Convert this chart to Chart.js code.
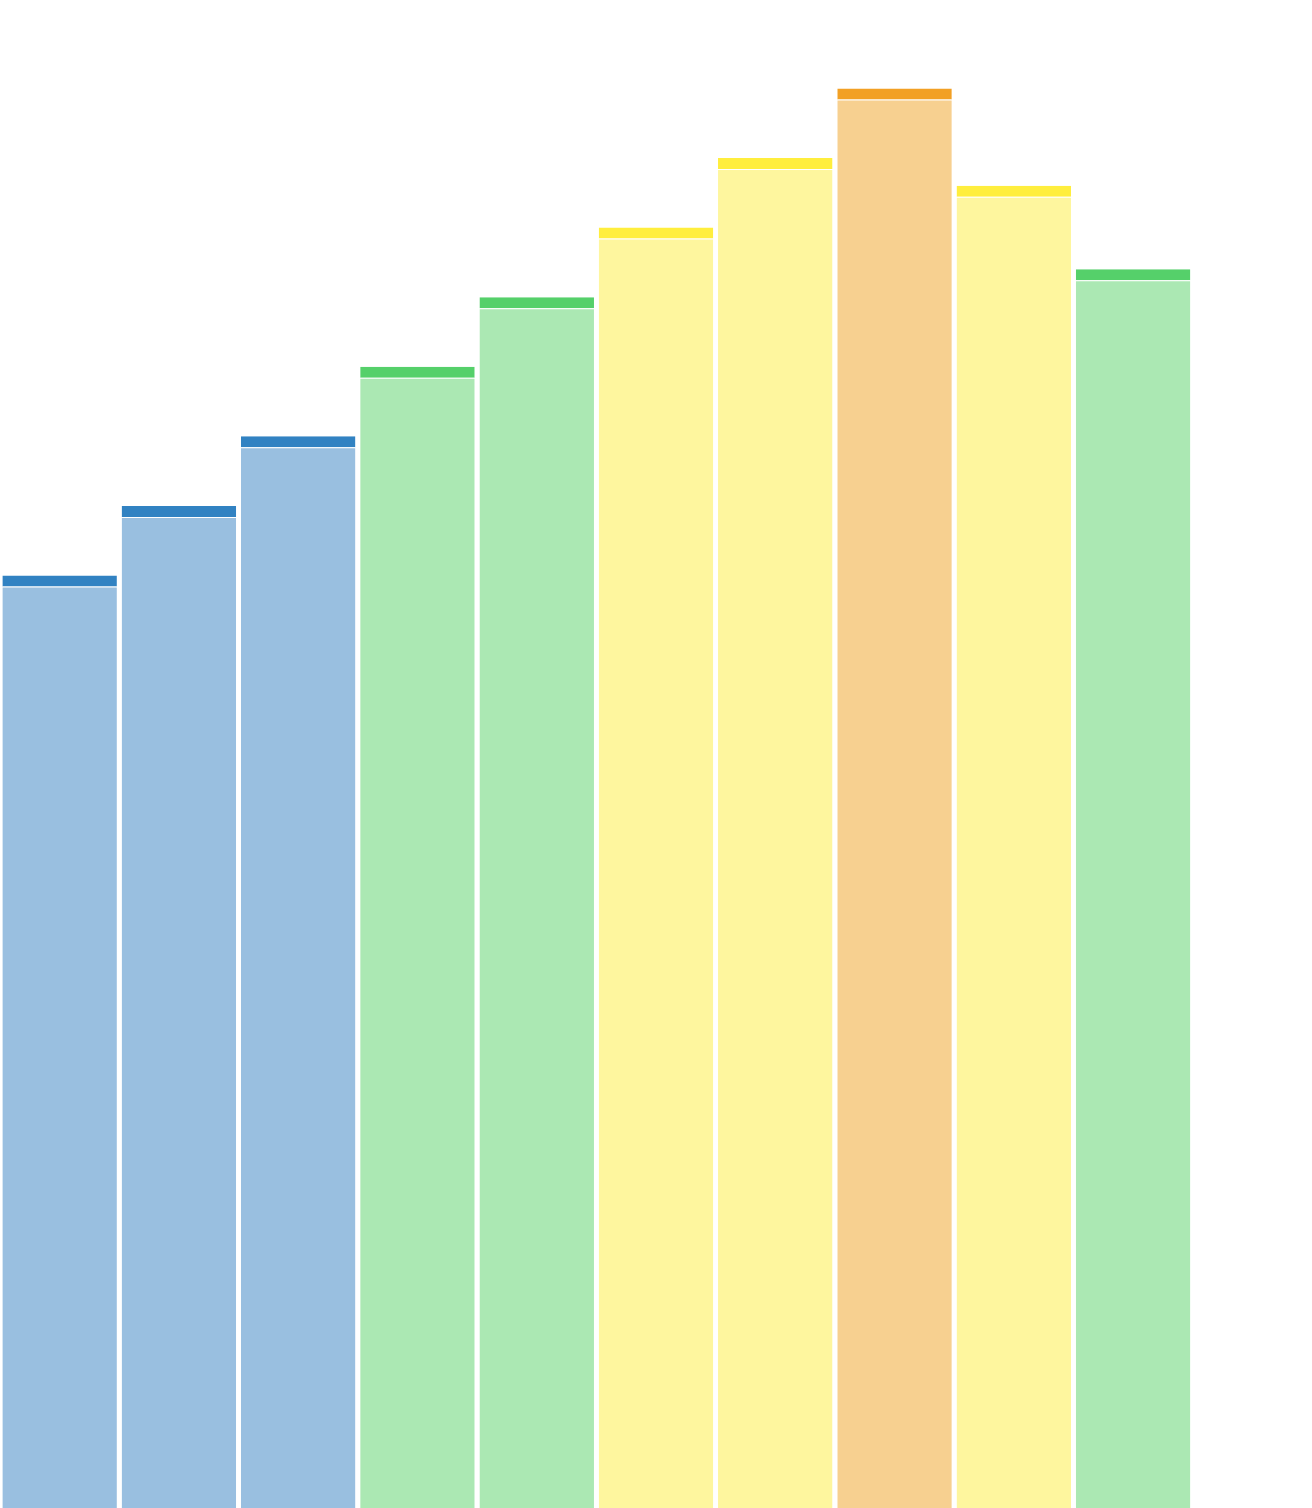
<!DOCTYPE html>
<html>
<head>
<meta charset="utf-8">
<script src="https://cdn.jsdelivr.net/npm/chart.js@4/dist/chart.umd.min.js"></script>
<style>
html,body{margin:0;padding:0;background:#fff;}
#wrap{width:1312px;height:1508px;position:relative;}
</style>
</head>
<body>
<div id="wrap"><canvas id="c"></canvas></div>
<script>
const categories = ['1','2','3','4','5','6','7','8','9','10',''];
const values = [13.4, 14.4, 15.4, 16.4, 17.4, 18.4, 19.4, 20.4, 19.0, 17.8, null];
const axisMax = 21.67;

const capColors  = ['#3182c2','#3182c2','#3182c2','#55d06a','#55d06a','#ffee3d','#ffee3d','#f2a024','#ffee3d','#55d06a','#ffffff'];
const fillColors = ['#99bfe0','#99bfe0','#99bfe0','#abe8b3','#abe8b3','#fef69e','#fef69e','#f7d090','#fef69e','#abe8b3','#ffffff'];

new Chart(document.getElementById('c'), {
  type: 'bar',
  data: {
    labels: categories,
    datasets: [
      {
        data: values,
        backgroundColor: '#ffffff',
        borderColor: capColors,
        borderWidth: {top: 11, left: 0, right: 0, bottom: 0},
        borderSkipped: 'start',
        grouped: false,
        order: 2,
        barPercentage: 0.96,
        categoryPercentage: 1
      },
      {
        data: values,
        backgroundColor: fillColors,
        borderColor: 'rgba(0,0,0,0)',
        borderWidth: {top: 12, left: 0, right: 0, bottom: 0},
        borderSkipped: 'start',
        grouped: false,
        order: 1,
        barPercentage: 0.96,
        categoryPercentage: 1
      }
    ]
  },
  options: {
    responsive: true,
    maintainAspectRatio: false,
    animation: false,
    layout: {padding: 0},
    plugins: {legend: {display: false}, tooltip: {enabled: false}, title: {display: false}},
    scales: {
      x: {display: false},
      y: {display: false, min: 0, max: axisMax}
    }
  }
});
</script>
</body>
</html>
